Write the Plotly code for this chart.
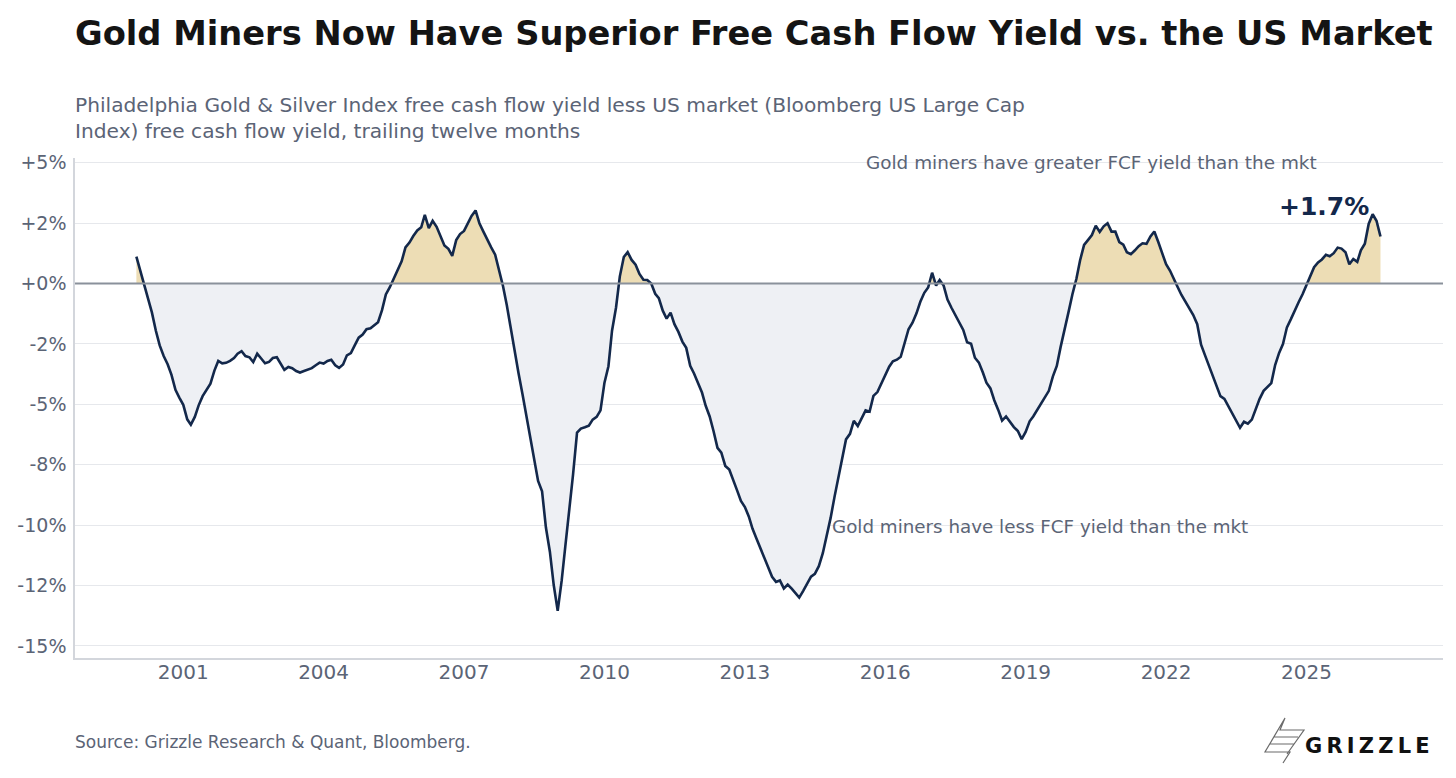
import numpy as np
import pandas as pd
import plotly.graph_objects as go

# FCF yield spread (Gold & Silver index minus US large cap), %, monthly from Jan 2000
spread = [
    1.12, 0.54, -0.07, -0.55, -1.19, -1.95, -2.56, -3.00, -3.34, -3.78, -4.40, -4.72,
    -5.02, -5.62, -5.84, -5.52, -5.04, -4.66, -4.41, -4.14, -3.60, -3.20, -3.30, -3.28,
    -3.20, -3.08, -2.90, -2.80, -3.00, -3.05, -3.25, -2.90, -3.10, -3.30, -3.24, -3.08,
    -3.05, -3.30, -3.57, -3.45, -3.50, -3.62, -3.68, -3.62, -3.57, -3.50, -3.38, -3.27,
    -3.31, -3.20, -3.15, -3.38, -3.49, -3.35, -2.97, -2.88, -2.55, -2.24, -2.11, -1.89,
    -1.85, -1.72, -1.60, -1.10, -0.45, -0.15, 0.22, 0.56, 0.92, 1.50, 1.70, 1.97,
    2.20, 2.33, 2.85, 2.30, 2.60, 2.35, 2.00, 1.58, 1.44, 1.15, 1.80, 2.05,
    2.18, 2.50, 2.80, 3.03, 2.50, 2.15, 1.80, 1.50, 1.20, 0.60, -0.10, -0.90,
    -1.90, -2.95, -3.70, -4.57, -5.43, -6.35, -7.30, -8.17, -8.60, -10.10, -11.10, -12.48,
    -13.55, -12.30, -10.90, -9.50, -7.90, -6.17, -6.00, -5.95, -5.88, -5.63, -5.52, -5.25,
    -4.10, -3.42, -1.95, -1.00, 0.30, 1.10, 1.30, 0.98, 0.78, 0.40, 0.16, 0.15,
    0.00, -0.42, -0.60, -1.12, -1.45, -1.20, -1.68, -2.00, -2.40, -2.66, -3.40, -3.72,
    -4.08, -4.51, -5.06, -5.50, -6.10, -6.80, -7.00, -7.55, -7.70, -8.10, -8.56, -9.00,
    -9.25, -9.65, -10.14, -10.55, -10.96, -11.37, -11.79, -12.14, -12.35, -12.29, -12.62, -12.46,
    -12.63, -12.85, -13.00, -12.72, -12.40, -12.13, -12.02, -11.70, -11.16, -10.47, -9.70, -8.84,
    -7.97, -7.12, -6.45, -6.22, -5.68, -5.90, -5.56, -5.25, -5.30, -4.65, -4.49, -4.17,
    -3.80, -3.44, -3.22, -3.15, -3.03, -2.44, -1.89, -1.62, -1.23, -0.75, -0.38, -0.16,
    0.45, -0.08, 0.15, -0.08, -0.66, -1.00, -1.30, -1.65, -1.92, -2.43, -2.49, -3.07,
    -3.27, -3.68, -4.10, -4.34, -4.83, -5.23, -5.67, -5.50, -5.75, -5.94, -6.10, -6.44,
    -6.14, -5.70, -5.50, -5.24, -5.00, -4.72, -4.44, -3.85, -3.41, -2.62, -1.95, -1.19,
    -0.44, 0.20, 0.97, 1.60, 1.80, 2.01, 2.40, 2.14, 2.37, 2.50, 2.15, 2.15,
    1.72, 1.61, 1.30, 1.22, 1.37, 1.55, 1.67, 1.65, 1.95, 2.16, 1.72, 1.23,
    0.80, 0.53, 0.24, -0.14, -0.47, -0.74, -1.00, -1.30, -1.68, -2.53, -2.97, -3.40,
    -3.80, -4.22, -4.66, -4.77, -5.06, -5.39, -5.70, -5.97, -5.72, -5.80, -5.63, -5.20,
    -4.77, -4.44, -4.28, -4.12, -3.37, -2.87, -2.50, -1.81, -1.47, -1.10, -0.76, -0.44,
    -0.03, 0.36, 0.68, 0.88, 1.00, 1.19, 1.13, 1.26, 1.49, 1.45, 1.30, 0.80,
    1.02, 0.90, 1.38, 1.65, 2.47, 2.87, 2.60, 1.95,
]
dates = pd.date_range("2000-01-01", periods=len(spread), freq="MS")

tick_years = [2001, 2004, 2007, 2010, 2013, 2016, 2019, 2022, 2025]
y_ticks = [5, 2.5, 0, -2.5, -5, -7.5, -10, -12.5, -15]
y_labels = ["+5%", "+2%", "+0%", "-2%", "-5%", "-8%", "-10%", "-12%", "-15%"]

NAVY = "#13284B"
GREY_TXT = "#5B6476"
GOLD_FILL = "#EDDDB5"
GREY_FILL = "#EEF0F4"

# split the area at zero crossings so the two fills meet cleanly
t = dates.values.astype("int64").astype(float)
v = np.array(spread)
xs, ys = [t[0]], [v[0]]
for i in range(1, len(v)):
    if v[i - 1] * v[i] < 0:
        tc = t[i - 1] + (t[i] - t[i - 1]) * (0 - v[i - 1]) / (v[i] - v[i - 1])
        xs.append(tc)
        ys.append(0.0)
    xs.append(t[i])
    ys.append(v[i])
xs = pd.to_datetime(np.array(xs).astype("int64"))
ys = np.array(ys)

fig = go.Figure()
fig.add_trace(go.Scatter(x=xs, y=np.minimum(ys, 0), fill="tozeroy", fillcolor=GREY_FILL,
                         mode="lines", line=dict(width=0), hoverinfo="skip"))
fig.add_trace(go.Scatter(x=xs, y=np.maximum(ys, 0), fill="tozeroy", fillcolor=GOLD_FILL,
                         mode="lines", line=dict(width=0), hoverinfo="skip"))
fig.add_hline(y=0, line_color="#8A919B", line_width=2)
fig.add_trace(go.Scatter(x=dates, y=spread, mode="lines",
                         line=dict(color=NAVY, width=2.6)))

# plot area in px: x 75..1443, y 158..658
L, R, T, B = 75, 1443, 158, 658


def px(x, y):
    return (x - L) / (R - L), (B - y) / (B - T)


def note(text, x, y, size, color, bold=False, anchor="left"):
    xp, yp = px(x, y)
    if bold:
        text = f"<b>{text}</b>"
    fig.add_annotation(text=text, x=xp, y=yp, xref="paper", yref="paper",
                       xanchor=anchor, yanchor="middle", showarrow=False,
                       font=dict(size=size, color=color, family="DejaVu Sans"))


note("Gold Miners Now Have Superior Free Cash Flow Yield vs. the US Market", 73, 33, 33.7, "#141414", bold=True)
note("Philadelphia Gold & Silver Index free cash flow yield less US market (Bloomberg US Large Cap", 73, 105, 20.2, GREY_TXT)
note("Index) free cash flow yield, trailing twelve months", 73, 131, 20.2, GREY_TXT)
note("Gold miners have greater FCF yield than the mkt", 1091, 162, 18.4, GREY_TXT, anchor="center")
note("Gold miners have less FCF yield than the mkt", 1040, 526, 18.3, GREY_TXT, anchor="center")
note("+1.7%", 1324, 206, 25, NAVY, bold=True, anchor="center")
note("Source: Grizzle Research & Quant, Bloomberg.", 73, 742, 17, GREY_TXT)
note("G\u2009R\u2009I\u2009Z\u2009Z\u2009L\u2009E", 1303, 746, 21, "#111111", bold=True)

# logo mark
pts = [(1285, 718), (1265, 752), (1290, 752), (1283, 763)]
pts2 = [(1285, 718), (1280, 730), (1304, 730), (1287, 754)]
path = ""
for seg in (pts, pts2, [(1274, 737), (1298, 737)], [(1270, 744), (1294, 744)]):
    path += " M " + " L ".join(f"{px(a, b)[0]:.5f},{px(a, b)[1]:.5f}" for a, b in seg)
fig.add_shape(type="path", path=path, xref="paper", yref="paper",
              line=dict(color="#6B6B6B", width=1.2))

fig.update_layout(
    width=1456, height=778,
    margin=dict(l=L, r=1456 - R, t=T, b=778 - B),
    paper_bgcolor="white", plot_bgcolor="white",
    showlegend=False,
    font=dict(family="DejaVu Sans", color=GREY_TXT),
)
fig.update_xaxes(
    type="date", range=["1998-09-09", "2027-12-02"],
    tickvals=[f"{y}-01-01" for y in tick_years], ticktext=[str(y) for y in tick_years],
    showgrid=False, zeroline=False, showline=True, linecolor="#D3D6DC", linewidth=1.5,
    ticks="", ticklabelstandoff=-5, tickfont=dict(size=20, color=GREY_TXT),
)
fig.update_yaxes(
    range=[-15.5, 5.2], tickvals=y_ticks, ticktext=y_labels,
    showgrid=True, gridcolor="#E6E8EC", gridwidth=1, zeroline=False,
    showline=True, linecolor="#D3D6DC", linewidth=1.5,
    ticks="", ticklabelstandoff=3, tickfont=dict(size=19, color=GREY_TXT),
)

# drop the browser's default page margin so the figure sits at 0,0
fig.write_html("out.html", config={"displayModeBar": False},
               post_script="document.body.style.margin='0px';")
